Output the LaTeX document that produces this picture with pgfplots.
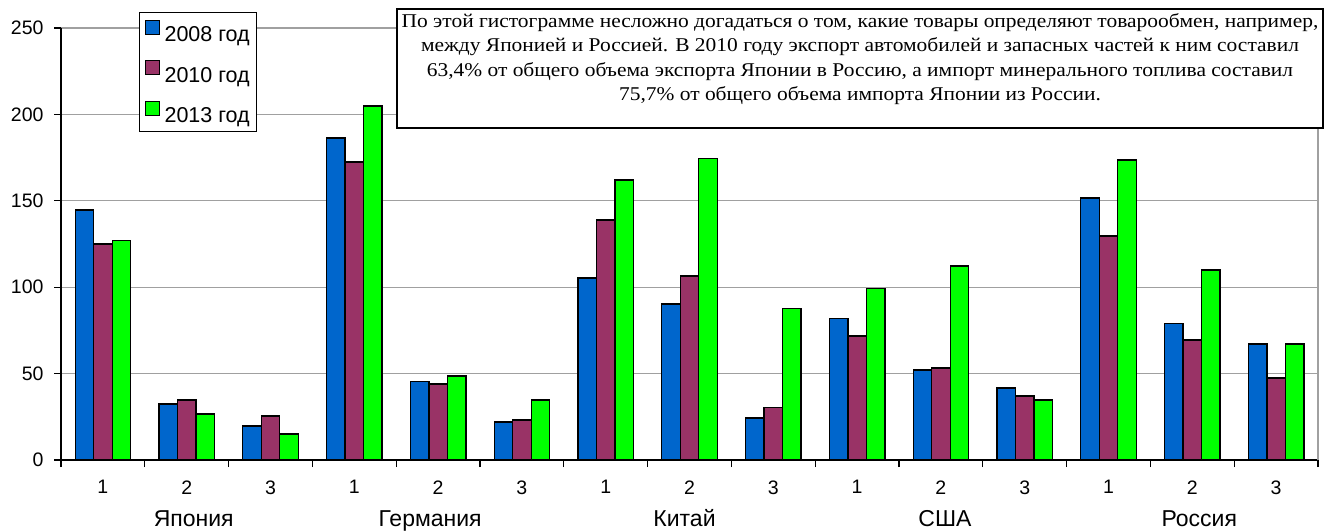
\documentclass[border=0pt]{standalone}
\usepackage{fontspec}
\setmainfont{Liberation Sans}
\newfontfamily\boxfont[FakeStretch=1.1]{Liberation Serif}
\usepackage{pgfplots}
\usepackage{pgfplotstable}
\pgfplotsset{compat=1.18}
\definecolor{c2008}{RGB}{0,102,204}
\definecolor{c2010}{RGB}{153,51,102}
\definecolor{c2013}{RGB}{0,255,0}
\definecolor{gridgray}{RGB}{160,160,160}
\pgfplotstableread{
x a b c
0 144.7 125.0 127.1
1 32.4 34.7 26.6
2 19.7 25.5 15.0
3 186.4 172.4 204.8
4 45.3 44.0 48.6
5 22.0 23.1 34.7
6 105.3 138.9 162.0
7 90.3 106.5 174.6
8 24.3 30.3 87.8
9 82.0 71.8 99.3
10 52.1 53.2 112.3
11 41.7 37.0 34.7
12 151.6 129.6 173.6
13 78.9 69.4 110.0
14 67.1 47.5 67.1
}\data
\newcommand\lab{\fontsize{19.5bp}{23bp}\selectfont}
\newcommand\leg{\fontsize{21.5bp}{25bp}\selectfont}
\newcommand\cty{\fontsize{23bp}{27bp}\selectfont}
\begin{document}
\begin{tikzpicture}
\useasboundingbox (0,0) rectangle (1326bp,531bp);
\begin{axis}[
  at={(61bp,71bp)}, anchor=south west,
  scale only axis, width=1257bp, height=432bp,
  xmin=-0.5, xmax=14.5, ymin=0, ymax=250,
  clip mode=individual,
  axis lines=left, axis line style={-, black, line width=1.3bp},
  ybar=0pt, bar width=18.5bp,
  xtick={-0.5,0.5,...,14.5},
  xticklabels={1,2,3,1,2,3,1,2,3,1,2,3,1,2,3},
  x tick label as interval,
  ytick={0,50,...,250},
  tick align=outside, major tick length=7bp,
  tick style={black, line width=1.3bp},
  ymajorgrids, grid style={gridgray, line width=1.3bp},
  ticklabel style={font=\lab},
  /pgf/number format/assume math mode=true,
  xticklabel style={yshift=-10bp},
  yticklabel style={xshift=-7bp},
  legend style={at={(rel axis cs:0.062,1.037)}, anchor=north west,
    draw=black, line width=1.3bp, fill=white, font=\leg, inner xsep=5bp, inner ysep=7bp,
    row sep=16.5bp, column sep=0bp,
    nodes={inner sep=2bp, text height=17bp, text depth=0bp}},
  legend cell align=left,
  legend image code/.code={\draw[#1, draw=black, line width=1bp] (0bp,-1bp) rectangle (14bp,13bp);},
]
\addplot[fill=c2008, draw=black, line width=1.3bp] table[x=x, y=a] {\data};
\addplot[fill=c2010, draw=black, line width=1.3bp] table[x=x, y=b] {\data};
\addplot[fill=c2013, draw=black, line width=1.3bp] table[x=x, y=c] {\data};
\legend{\hspace{3bp}2008 год, \hspace{3bp}2010 год, \hspace{3bp}2013 год}
\draw[gridgray, line width=1.3bp] (rel axis cs:1,0) -- (rel axis cs:1,1);
\node[font=\cty, anchor=base] at (axis cs:1,0) [yshift=-66bp, xshift=7bp] {Япония};
\node[font=\cty, anchor=base] at (axis cs:4,0) [yshift=-66bp, xshift=-8bp] {Германия};
\node[font=\cty, anchor=base] at (axis cs:7,0) [yshift=-66bp, xshift=-5bp] {Китай};
\node[font=\cty, anchor=base] at (axis cs:10,0) [yshift=-66bp, xshift=4bp] {США};
\node[font=\cty, anchor=base] at (axis cs:13,0) [yshift=-66bp, xshift=7bp] {Россия};
\end{axis}
\node[draw=black, line width=1.8bp, fill=white, minimum width=926bp, minimum height=119bp,
  inner sep=0pt] at (860bp,462.5bp) {};
\node[align=center, inner sep=0pt, font={\boxfont\fontsize{19.5bp}{24.5bp}\selectfont}] at (860bp,472bp)
  {По этой гистограмме несложно догадаться о том, какие товары определяют товарообмен, например,\\
   между Японией и Россией. В 2010 году экспорт автомобилей и запасных частей к ним составил\\
   63,4\% от общего объема экспорта Японии в Россию, а импорт минерального топлива составил\\
   75,7\% от общего объема импорта Японии из России.};
\end{tikzpicture}
\end{document}
